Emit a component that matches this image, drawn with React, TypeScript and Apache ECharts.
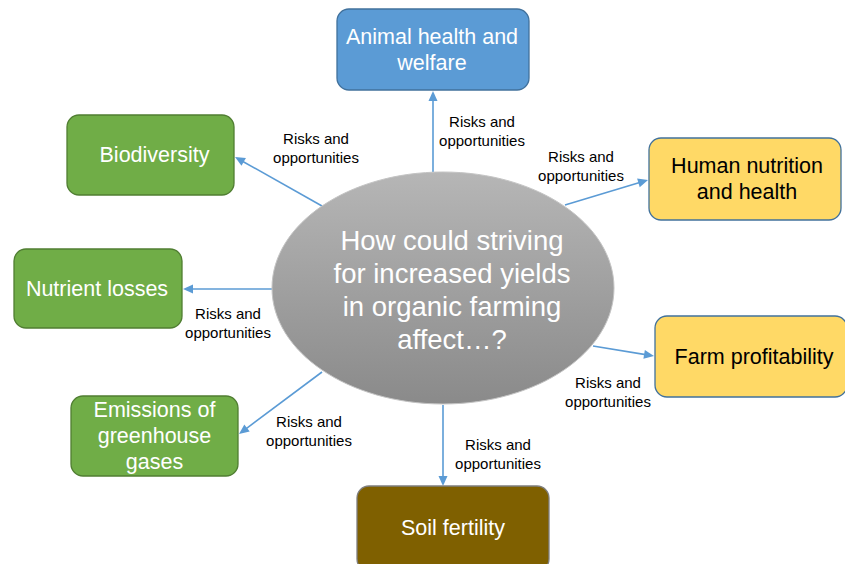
import React, { useEffect, useRef } from "react";
import * as echarts from "echarts";

// ---- content ----
const question = "How could striving\nfor increased yields\nin organic farming\naffect…?";
const topics = [
  "Animal health and\nwelfare",
  "Human nutrition\nand health",
  "Farm profitability",
  "Soil fertility",
  "Emissions of\ngreenhouse\ngases",
  "Nutrient losses",
  "Biodiversity",
];
const topicGroups = ["animal", "human", "human", "soil", "environment", "environment", "environment"];
const linkLabels = [
  "Risks and\nopportunities",
  "Risks and\nopportunities",
  "Risks and\nopportunities",
  "Risks and\nopportunities",
  "Risks and\nopportunities",
  "Risks and\nopportunities",
  "Risks and\nopportunities",
];

// ---- layout (pixels) ----
const boxRects = [
  [337, 9, 192, 81],
  [649, 138, 192, 82],
  [655, 316, 192, 81],
  [357, 486, 192, 85],
  [71, 396, 167, 80],
  [14, 249, 168, 79],
  [67, 115, 167, 80],
];
const boxTextOffsets = [
  [-1, 0],
  [2, 0],
  [3, 0],
  [0, -1],
  [0, 0],
  [-1, 0],
  [4, 0],
];
const arrowLines = [
  [433, 172, 433, 91],
  [565, 205, 648, 180],
  [593, 346, 654, 356],
  [443, 405, 443, 486],
  [322, 372, 239, 434],
  [272, 289, 183, 289],
  [322, 206, 235, 157],
];
const labelCenters = [
  [482, 131],
  [581, 166],
  [608, 392],
  [498, 454],
  [309, 431],
  [228, 323],
  [316, 148],
];
const ellipseShape = { cx: 443, cy: 288, rx: 171, ry: 116 };

// ---- styles ----
const groupStyles: Record<string, { fill: string; stroke: string; text: string }> = {
  animal: { fill: "#5b9bd5", stroke: "#41719c", text: "#ffffff" },
  human: { fill: "#ffd966", stroke: "#41719c", text: "#000000" },
  soil: { fill: "#7f6000", stroke: "#7f7f7f", text: "#ffffff" },
  environment: { fill: "#70ad47", stroke: "#507e32", text: "#ffffff" },
};
const FONT = "'Liberation Sans', Arial, Helvetica, sans-serif";
const ARROW = "#5b9bd5";

function buildGraphics() {
  const els: any[] = [];
  // arrows
  arrowLines.forEach(([x1, y1, x2, y2]) => {
    const dx = x2 - x1;
    const dy = y2 - y1;
    const len = Math.hypot(dx, dy);
    const ux = dx / len;
    const uy = dy / len;
    const L = 10;
    const W = 4.5;
    els.push({
      type: "line",
      z: 1,
      shape: { x1, y1, x2: x2 - ux * L * 0.7, y2: y2 - uy * L * 0.7 },
      style: { stroke: ARROW, lineWidth: 1.6 },
    });
    els.push({
      type: "polygon",
      z: 1,
      shape: {
        points: [
          [x2, y2],
          [x2 - ux * L - uy * W, y2 - uy * L + ux * W],
          [x2 - ux * L + uy * W, y2 - uy * L - ux * W],
        ],
      },
      style: { fill: ARROW },
    });
  });
  // central ellipse
  els.push({
    type: "ellipse",
    z: 2,
    shape: ellipseShape,
    style: {
      fill: new echarts.graphic.LinearGradient(0, 0, 0, 1, [
        { offset: 0, color: "#b6b6b6" },
        { offset: 1, color: "#8a8a8a" },
      ]),
      stroke: "#c4c4c4",
      lineWidth: 1,
    },
  });
  els.push({
    type: "text",
    z: 3,
    style: {
      text: question,
      x: ellipseShape.cx + 9,
      y: ellipseShape.cy + 2,
      fill: "#ffffff",
      fontSize: 27.5,
      fontFamily: FONT,
      lineHeight: 33,
      align: "center",
      verticalAlign: "middle",
    },
  });
  // boxes
  topics.forEach((t, i) => {
    const [x, y, w, h] = boxRects[i];
    const [ox, oy] = boxTextOffsets[i];
    const st = groupStyles[topicGroups[i]];
    els.push({
      type: "rect",
      z: 2,
      shape: { x, y, width: w, height: h, r: 12 },
      style: { fill: st.fill, stroke: st.stroke, lineWidth: 1.3 },
    });
    els.push({
      type: "text",
      z: 3,
      style: {
        text: t,
        x: x + w / 2 + ox,
        y: y + h / 2 + oy,
        fill: st.text,
        fontSize: 21.5,
        fontFamily: FONT,
        lineHeight: 26,
        align: "center",
        verticalAlign: "middle",
      },
    });
  });
  // link labels
  linkLabels.forEach((t, i) => {
    const [x, y] = labelCenters[i];
    els.push({
      type: "text",
      z: 3,
      style: {
        text: t,
        x,
        y,
        fill: "#000000",
        fontSize: 15,
        fontFamily: FONT,
        lineHeight: 18.5,
        align: "center",
        verticalAlign: "middle",
      },
    });
  });
  return els;
}

export default function App() {
  const ref = useRef<HTMLDivElement>(null);
  useEffect(() => {
    document.body.style.margin = "0";
    const chart = echarts.init(ref.current!, null, { renderer: "svg" });
    chart.setOption({
      animation: false,
      backgroundColor: "#ffffff",
      graphic: { elements: buildGraphics() },
    });
    return () => chart.dispose();
  }, []);
  return <div ref={ref} style={{ width: 845, height: 564 }} />;
}
